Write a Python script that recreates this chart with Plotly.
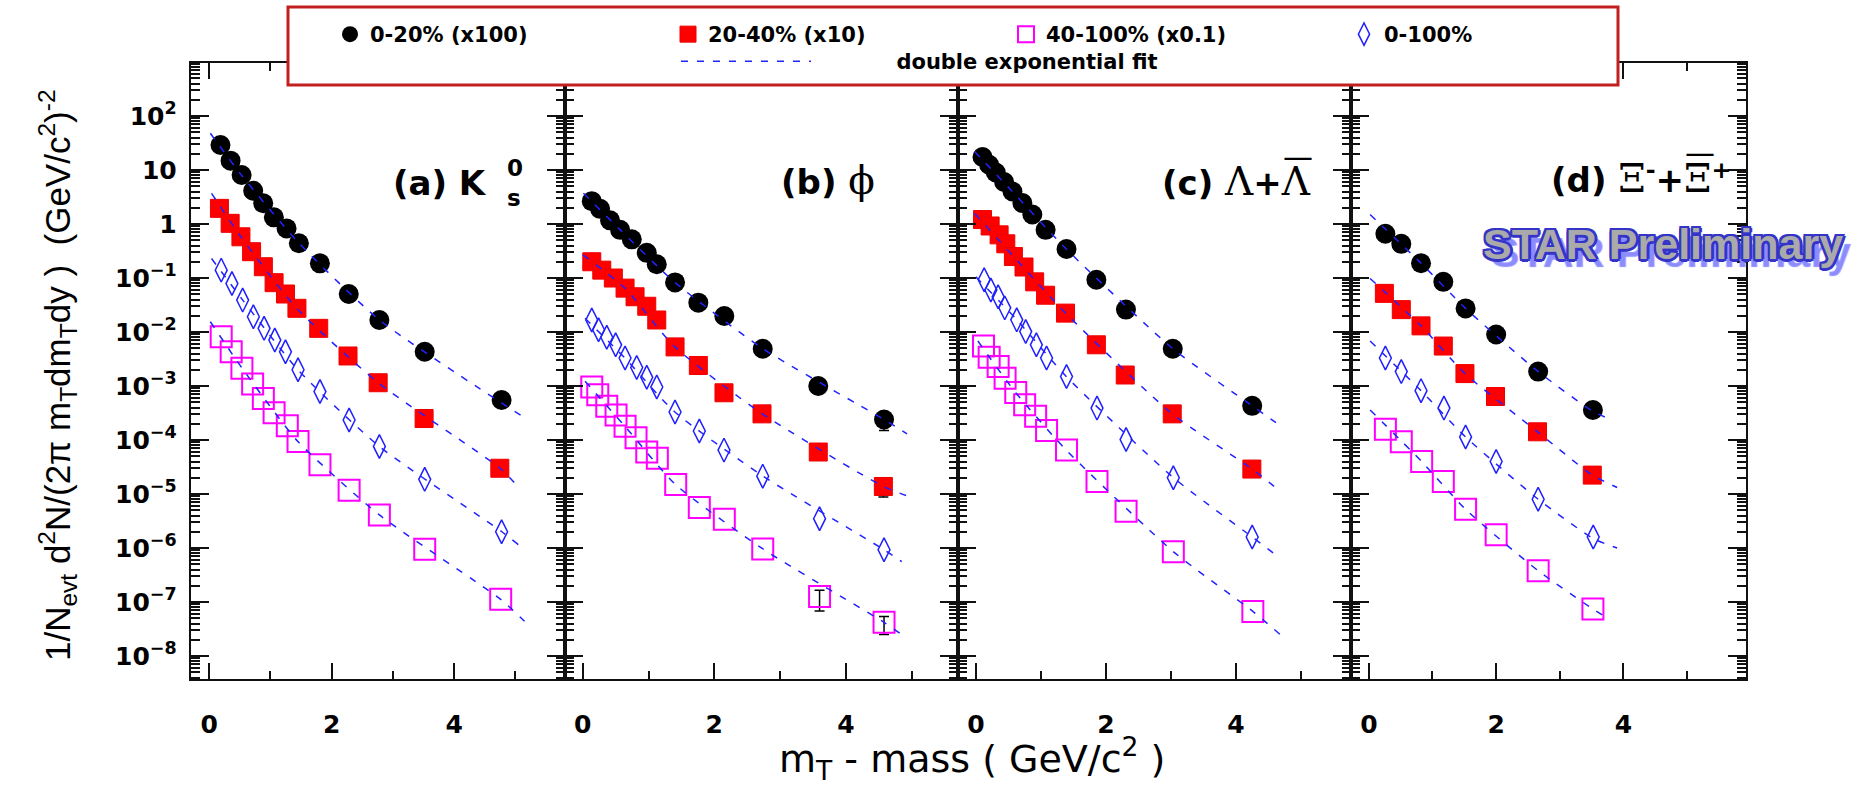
import plotly.graph_objects as go

W, H = 1856, 788
NO = "NaN"  # no error bar on this point

# ---------------- data ----------------
# panel (a) K0s
a_c_x = [0.186, 0.351, 0.531, 0.72, 0.884, 1.058, 1.265, 1.466, 1.809, 2.28, 2.78, 3.52, 4.775]
a_c_y = [29, 14.9, 8.07, 4.14, 2.42, 1.33, 0.83, 0.44, 0.187, 0.0506, 0.0167, 0.00432, 5.5e-4]
a_r_x = [0.169, 0.344, 0.52, 0.694, 0.886, 1.061, 1.247, 1.434, 1.79, 2.268, 2.76, 3.51, 4.746]
a_r_y = [1.95, 1.03, 0.58, 0.307, 0.162, 0.082, 0.0506, 0.0275, 0.0117, 0.0036, 0.00115, 2.5e-4, 3.0e-5]
a_m_x = [0.198, 0.361, 0.536, 0.711, 0.886, 1.061, 1.277, 1.452, 1.81, 2.286, 2.78, 3.52, 4.76]
a_m_y = [0.0082, 0.0043, 0.00213, 0.00109, 5.9e-4, 3.2e-4, 1.83e-4, 9.4e-5, 3.5e-5, 1.18e-5, 4.1e-6, 9.5e-7, 1.12e-7]
a_d_x = [0.198, 0.373, 0.548, 0.723, 0.898, 1.073, 1.247, 1.452, 1.81, 2.286, 2.78, 3.52, 4.775]
a_d_y = [0.14, 0.079, 0.039, 0.0192, 0.0117, 0.0071, 0.0043, 0.002, 7.9e-4, 2.35e-4, 7.6e-5, 1.87e-5, 2.0e-6]
a_fc_x = [0.02, 0.53, 1.47, 2.78, 4.78, 5.15]
a_fc_y = [48, 8.0, 0.44, 0.0167, 4.8e-4, 2.6e-4]
a_fr_x = [0.04, 0.52, 1.43, 2.76, 4.75, 5.01]
a_fr_y = [3.7, 0.58, 0.0275, 0.00115, 3.0e-5, 1.5e-5]
a_fm_x = [0.02, 0.54, 1.45, 2.78, 4.76, 5.15]
a_fm_y = [0.0155, 0.00213, 9.4e-5, 4.1e-6, 1.12e-7, 4.4e-8]
a_fd_x = [0.04, 0.55, 1.45, 2.78, 4.78, 5.05]
a_fd_y = [0.23, 0.039, 0.002, 7.6e-5, 2.0e-6, 1.15e-6]

# panel (b) phi
b_c_x = [0.137, 0.263, 0.415, 0.567, 0.745, 0.973, 1.125, 1.403, 1.757, 2.152, 2.736, 3.58, 4.58]
b_c_y = [2.65, 1.91, 1.17, 0.78, 0.52, 0.293, 0.18, 0.083, 0.035, 0.0198, 0.0049, 1.0e-3, 2.4e-4]
b_c_elo = [NO, NO, NO, NO, NO, NO, NO, NO, NO, NO, NO, NO, 0.9e-4]
b_c_ehi = [NO, NO, NO, NO, NO, NO, NO, NO, NO, NO, NO, NO, 0.8e-4]
b_r_x = [0.137, 0.289, 0.465, 0.643, 0.795, 0.973, 1.125, 1.403, 1.757, 2.147, 2.725, 3.58, 4.57]
b_r_y = [0.2, 0.14, 0.1, 0.065, 0.045, 0.03, 0.0167, 0.0053, 0.0024, 7.5e-4, 3.05e-4, 6.0e-5, 1.38e-5]
b_r_elo = [NO, NO, NO, NO, NO, NO, NO, NO, NO, NO, NO, NO, 0.5e-5]
b_r_ehi = [NO, NO, NO, NO, NO, NO, NO, NO, NO, NO, NO, NO, 0.4e-5]
b_m_x = [0.137, 0.228, 0.365, 0.506, 0.643, 0.81, 0.973, 1.134, 1.413, 1.772, 2.152, 2.736, 3.6, 4.58]
b_m_y = [9.6e-4, 6.9e-4, 4.2e-4, 2.9e-4, 1.8e-4, 1.1e-4, 6.0e-5, 4.6e-5, 1.5e-5, 5.6e-6, 3.4e-6, 9.6e-7, 1.26e-7, 4.2e-8]
b_m_elo = [NO, NO, NO, NO, NO, NO, NO, NO, NO, NO, NO, NO, 5.8e-8, 1.7e-8]
b_m_ehi = [NO, NO, NO, NO, NO, NO, NO, NO, NO, NO, NO, NO, 4.0e-8, 1.2e-8]
b_d_x = [0.137, 0.24, 0.365, 0.5, 0.643, 0.82, 0.973, 1.125, 1.403, 1.772, 2.147, 2.736, 3.6, 4.58]
b_d_y = [0.0167, 0.011, 0.008, 0.0058, 0.0033, 0.0022, 0.00145, 9.6e-4, 3.3e-4, 1.47e-4, 6.5e-5, 2.14e-5, 3.5e-6, 9.3e-7]
b_fc_x = [0.01, 0.57, 1.40, 2.74, 4.58, 4.93]
b_fc_y = [3.7, 0.78, 0.083, 0.0049, 2.4e-4, 1.3e-4]
b_fr_x = [0.0, 0.64, 1.40, 2.73, 4.57, 4.97]
b_fr_y = [0.27, 0.065, 0.0053, 3.05e-4, 1.38e-5, 8.9e-6]
b_fm_x = [0.035, 0.64, 1.41, 2.74, 4.58, 4.87]
b_fm_y = [1.23e-3, 1.8e-4, 1.5e-5, 9.6e-7, 4.2e-8, 2.4e-8]
b_fd_x = [0.035, 0.64, 1.40, 2.74, 4.58, 4.85]
b_fd_y = [0.018, 0.0033, 3.3e-4, 2.14e-5, 9.3e-7, 5.6e-7]

# panel (c) Lambda
c_c_x = [0.102, 0.204, 0.306, 0.434, 0.562, 0.715, 0.868, 1.072, 1.394, 1.853, 2.308, 3.028, 4.25]
c_c_y = [17.4, 12.5, 9.0, 6.0, 4.0, 2.45, 1.5, 0.78, 0.345, 0.093, 0.026, 0.0049, 4.3e-4]
c_r_x = [0.102, 0.219, 0.357, 0.46, 0.577, 0.74, 0.904, 1.072, 1.378, 1.853, 2.297, 3.02, 4.245]
c_r_y = [1.21, 0.92, 0.63, 0.43, 0.25, 0.16, 0.085, 0.048, 0.0224, 0.0058, 0.0016, 3.05e-4, 2.9e-5]
c_m_x = [0.117, 0.204, 0.342, 0.449, 0.613, 0.75, 0.919, 1.087, 1.394, 1.863, 2.31, 3.037, 4.26]
c_m_y = [0.0055, 0.0034, 0.0023, 1.4e-3, 7.6e-4, 4.5e-4, 2.75e-4, 1.5e-4, 6.5e-5, 1.7e-5, 4.8e-6, 8.5e-7, 6.7e-8]
c_d_x = [0.127, 0.23, 0.342, 0.444, 0.628, 0.766, 0.93, 1.087, 1.394, 1.863, 2.31, 3.037, 4.25]
c_d_y = [0.093, 0.06, 0.045, 0.028, 0.0168, 0.0102, 0.0058, 0.0033, 1.5e-3, 3.9e-4, 1.02e-4, 2.0e-5, 1.6e-6]
c_fc_x = [-0.02, 0.56, 1.39, 3.03, 4.25, 4.68]
c_fc_y = [22, 4.0, 0.345, 0.0049, 4.3e-4, 1.85e-4]
c_fr_x = [-0.02, 0.58, 1.38, 3.02, 4.25, 4.63]
c_fr_y = [1.57, 0.25, 0.0224, 3.05e-4, 2.9e-5, 1.26e-5]
c_fm_x = [0.03, 0.61, 1.39, 3.04, 4.26, 4.68]
c_fm_y = [0.0068, 7.6e-4, 6.5e-5, 8.5e-7, 6.7e-8, 2.5e-8]
c_fd_x = [0.0, 0.63, 1.39, 3.04, 4.25, 4.68]
c_fd_y = [0.105, 0.0168, 1.5e-3, 2.0e-5, 1.6e-6, 6.5e-7]

# panel (d) Xi
d_c_x = [0.26, 0.51, 0.82, 1.17, 1.52, 2.0, 2.66, 3.52]
d_c_y = [0.66, 0.43, 0.188, 0.085, 0.0274, 0.009, 1.85e-3, 3.6e-4]
d_r_x = [0.244, 0.51, 0.82, 1.17, 1.51, 1.99, 2.65, 3.51]
d_r_y = [0.052, 0.026, 0.013, 0.0055, 1.7e-3, 6.4e-4, 1.42e-4, 2.24e-5]
d_m_x = [0.26, 0.51, 0.83, 1.17, 1.52, 2.0, 2.66, 3.52]
d_m_y = [1.58e-4, 9.3e-5, 4.0e-5, 1.7e-5, 5.2e-6, 1.77e-6, 3.8e-7, 7.4e-8]
d_d_x = [0.26, 0.51, 0.82, 1.18, 1.52, 2.0, 2.66, 3.525]
d_d_y = [3.3e-3, 1.85e-3, 8.2e-4, 3.9e-4, 1.14e-4, 4.0e-5, 8.0e-6, 1.6e-6]
d_fc_x = [0.02, 0.82, 1.52, 2.66, 3.52, 3.8]
d_fc_y = [1.5, 0.188, 0.0274, 1.85e-3, 3.4e-4, 2.4e-4]
d_fr_x = [0.02, 0.82, 1.51, 2.65, 3.51, 3.9]
d_fr_y = [0.098, 0.013, 1.7e-3, 1.42e-4, 2.24e-5, 1.32e-5]
d_fm_x = [0.02, 0.83, 1.52, 2.66, 3.52, 3.7]
d_fm_y = [3.6e-4, 4.0e-5, 5.2e-6, 3.8e-7, 7.4e-8, 5.5e-8]
d_fd_x = [0.02, 0.82, 1.52, 2.66, 3.525, 3.9]
d_fd_y = [6.8e-3, 8.2e-4, 1.14e-4, 8.0e-6, 1.5e-6, 1.0e-6]

series_names = ["0-20% (x100)", "20-40% (x10)", "40-100% (x0.1)", "0-100%"]
fit_name = "double exponential fit"
x_ticks = [0, 2, 4]
y_range_log = [-8.42, 2.98]

# ---------------- layout geometry (pixels) ----------------
panel_px = [(190.7, 565.0), (565.0, 957.7), (957.7, 1351.0), (1351.0, 1745.7)]
panel_xrange = [[-0.30, 5.81], [-0.27, 5.70], [-0.28, 5.77], [-0.28, 5.92]]
plot_bot = 678.7
plot_top = plot_bot - (y_range_log[1] - y_range_log[0]) * 54.0

BLACK = "#111111"
FITC = "#2222ff"

styles = [
    dict(mode="markers", marker=dict(symbol="circle", size=20, color="black")),
    dict(mode="markers", marker=dict(symbol="square", size=18, color="#ff0000",
                                     line=dict(color="#ee0000", width=1))),
    dict(mode="markers", marker=dict(symbol="square-open", size=21, color="#ff00ff",
                                     line=dict(width=2))),
    dict(mode="markers", marker=dict(symbol="diamond-tall-open", size=17, color="#1f1fff",
                                     line=dict(width=1.5))),
]

panels = [
    dict(s=[(a_c_x, a_c_y, None, None), (a_r_x, a_r_y, None, None),
            (a_m_x, a_m_y, None, None), (a_d_x, a_d_y, None, None)],
         f=[(a_fc_x, a_fc_y), (a_fr_x, a_fr_y), (a_fm_x, a_fm_y), (a_fd_x, a_fd_y)]),
    dict(s=[(b_c_x, b_c_y, b_c_ehi, b_c_elo), (b_r_x, b_r_y, b_r_ehi, b_r_elo),
            (b_m_x, b_m_y, b_m_ehi, b_m_elo), (b_d_x, b_d_y, None, None)],
         f=[(b_fc_x, b_fc_y), (b_fr_x, b_fr_y), (b_fm_x, b_fm_y), (b_fd_x, b_fd_y)]),
    dict(s=[(c_c_x, c_c_y, None, None), (c_r_x, c_r_y, None, None),
            (c_m_x, c_m_y, None, None), (c_d_x, c_d_y, None, None)],
         f=[(c_fc_x, c_fc_y), (c_fr_x, c_fr_y), (c_fm_x, c_fm_y), (c_fd_x, c_fd_y)]),
    dict(s=[(d_c_x, d_c_y, None, None), (d_r_x, d_r_y, None, None),
            (d_m_x, d_m_y, None, None), (d_d_x, d_d_y, None, None)],
         f=[(d_fc_x, d_fc_y), (d_fr_x, d_fr_y), (d_fm_x, d_fm_y), (d_fd_x, d_fd_y)]),
]

fig = go.Figure()

for i, p in enumerate(panels):
    xa = "x" if i == 0 else f"x{i+1}"
    ya = "y" if i == 0 else f"y{i+1}"
    for k, (xs, ys, ehi, elo) in enumerate(p["s"]):
        st = styles[k]
        kw = {}
        if ehi is not None:
            kw["error_y"] = dict(type="data", symmetric=False, array=ehi, arrayminus=elo,
                                 color="black", thickness=1.5, width=5)
        fig.add_trace(go.Scatter(x=xs, y=ys, name=series_names[k], mode=st["mode"],
                                 marker=st["marker"], xaxis=xa, yaxis=ya,
                                 showlegend=(i == 0), legend="legend", **kw))
    for k, (fx, fy) in enumerate(p["f"]):
        fig.add_trace(go.Scatter(x=fx, y=fy, name="\u00a0" * 11 + fit_name, mode="lines",
                                 line=dict(color=FITC, width=1.5, dash="7px,9px",
                                           shape="spline", smoothing=0.6),
                                 xaxis=xa, yaxis=ya,
                                 showlegend=(i == 0 and k == 0), legend="legend2"))

tickfont = dict(family="DejaVu Sans", size=25, color="black", weight="bold")
for i in range(4):
    x0, x1 = panel_px[i]
    xkey = "xaxis" if i == 0 else f"xaxis{i+1}"
    ykey = "yaxis" if i == 0 else f"yaxis{i+1}"
    yanchor = "y" if i == 0 else f"y{i+1}"
    xanchor = "x" if i == 0 else f"x{i+1}"
    fig.layout[xkey] = dict(
        domain=[x0 / W, x1 / W], range=panel_xrange[i], anchor=yanchor,
        showline=True, linecolor=BLACK, linewidth=2, mirror="allticks",
        ticks="inside", ticklen=16, tickwidth=2, tickcolor=BLACK,
        tickmode="array", tickvals=x_ticks, ticktext=[str(v) for v in x_ticks],
        minor=dict(ticks="inside", ticklen=8, tickwidth=2, tickcolor=BLACK,
                   dtick=1, tick0=0, showgrid=False),
        tickfont=tickfont, ticklabelstandoff=22,
        showgrid=False, zeroline=False, automargin=False, fixedrange=True)
    fig.layout[ykey] = dict(
        domain=[1 - plot_bot / H, 1 - plot_top / H], type="log", range=y_range_log,
        anchor=xanchor,
        showline=True, linecolor=BLACK, linewidth=2, mirror="allticks",
        ticks="inside", ticklen=18, tickwidth=2, tickcolor=BLACK,
        dtick=1, exponentformat="power",
        minor=dict(ticks="inside", ticklen=9, tickwidth=1.5, tickcolor=BLACK,
                   dtick="D1", showgrid=False),
        tickfont=dict(family="DejaVu Sans", size=20, color="black", weight="bold"),
        ticklabelstandoff=8, showticklabels=(i == 0),
        showgrid=False, zeroline=False, automargin=False, fixedrange=True)

# legend frame
fig.add_shape(type="rect", xref="paper", yref="paper",
              x0=288 / W, x1=1618 / W, y0=1 - 85 / H, y1=1 - 7 / H,
              fillcolor="white", line=dict(color="#c21f1f", width=3), layer="above")

annotations = []
# axis titles
annotations.append(dict(
    text="1/N<sub>evt</sub> d<sup>2</sup>N/(2π m<sub>T</sub>dm<sub>T</sub>dy )  (GeV/c<sup>2</sup>)<sup>-2</sup>",
    x=57 / W, y=1 - 375 / H, xref="paper", yref="paper", textangle=-90,
    showarrow=False, xanchor="center", yanchor="middle",
    font=dict(family="Liberation Sans", size=35, color="black")))
annotations.append(dict(
    text="m<sub>T</sub> - mass ( GeV/c<sup>2</sup> )",
    x=972 / W, y=1 - 758 / H, xref="paper", yref="paper", showarrow=False,
    xanchor="center", yanchor="middle",
    font=dict(family="DejaVu Sans", size=38, color="black")))

GR = "font-family:DejaVu Serif;font-weight:normal;font-size:39px"
lab_font = dict(family="DejaVu Sans", size=34, color="black", weight="bold")
panel_labels = [
    ("(a) K", 391, 183),
    (f"(b) <span style='{GR}'>ϕ</span>", 779, 181),
    (f"(c) <span style='{GR}'>Λ</span>+<span style='{GR}'>Λ</span>", 1160, 182),
    (f"(d) <span style='{GR}'>Ξ</span><sup>-</sup>+<span style='{GR}'>Ξ</span><sup>+</sup>", 1549, 178),
]
for t, lx, ly in panel_labels:
    annotations.append(dict(text=t, x=lx / W, y=1 - ly / H, xref="paper", yref="paper",
                            showarrow=False, xanchor="left", yanchor="middle", font=lab_font))
# overbars of the anti-particles
for bx, by in [(1298, 156), (1700, 153)]:
    annotations.append(dict(text="—", x=bx / W, y=1 - by / H, xref="paper", yref="paper",
                            showarrow=False, xanchor="center", yanchor="middle",
                            font=dict(family="DejaVu Sans", size=30, color="black")))
# K0s stacked super/sub scripts
annotations.append(dict(text="0<br>s", x=505 / W, y=1 - 183 / H, xref="paper", yref="paper",
                        showarrow=False, xanchor="left", yanchor="middle", align="left",
                        font=dict(family="DejaVu Sans", size=23, color="black", weight="bold")))
# STAR Preliminary
OUT = "#3434c8"
shadow = ", ".join([f"{dx}px {dy}px 0 {OUT}" for dx, dy in
                    [(2, 0), (-2, 0), (0, 2), (0, -2), (2, 2), (-2, -2), (2, -2), (-2, 2),
                     (3, 0), (0, 3)]]
                   + ["8px 8px 1px #8c8cff"])
annotations.append(dict(text="STAR Preliminary", x=1481 / W, y=1 - 244 / H, xref="paper",
                        yref="paper", showarrow=False, xanchor="left", yanchor="middle",
                        font=dict(family="Liberation Sans", size=43, color="#aaaaaa",
                                  weight="bold", shadow=shadow)))

fig.update_layout(
    width=W, height=H, margin=dict(l=0, r=0, t=0, b=0), template="none",
    paper_bgcolor="white", plot_bgcolor="white", showlegend=True,
    annotations=annotations,
    legend=dict(orientation="h", x=330 / W, y=1 - 14 / H, xanchor="left", yanchor="top",
                entrywidth=293, entrywidthmode="pixels", bgcolor="rgba(0,0,0,0)",
                borderwidth=0, font=dict(family="DejaVu Sans", size=21, color="black",
                                         weight="bold"), itemclick=False),
    legend2=dict(orientation="h", x=676 / W, y=1 - 41 / H, xanchor="left", yanchor="top",
                 itemwidth=130, bgcolor="rgba(0,0,0,0)", borderwidth=0,
                 font=dict(family="DejaVu Sans", size=21, color="black", weight="bold")),
)

fig.write_html("out.html")
